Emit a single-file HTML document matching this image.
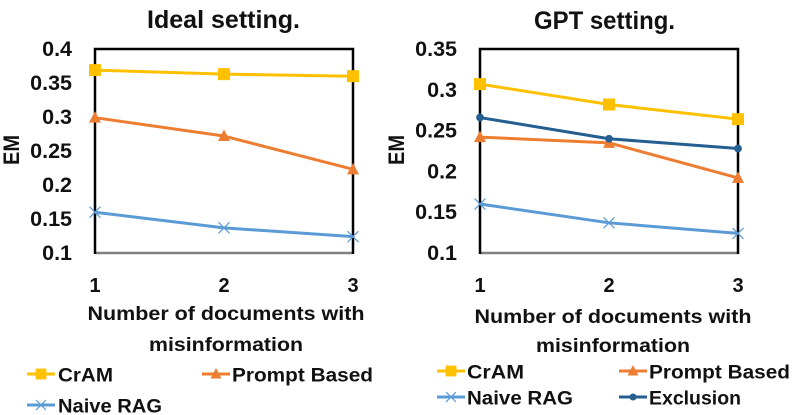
<!DOCTYPE html>
<html>
<head>
<meta charset="utf-8">
<style>
html,body{margin:0;padding:0;background:#fff;width:797px;height:415px;overflow:hidden}
svg{display:block}
text{font-family:"Liberation Sans",sans-serif;font-weight:bold;fill:#111}
</style>
</head>
<body>
<svg id="fig" width="797" height="415" viewBox="0 0 797 415" xmlns="http://www.w3.org/2000/svg"></svg>
<script>
const categories = ["1", "2", "3"];

const idealTicks = ["0.1", "0.15", "0.2", "0.25", "0.3", "0.35", "0.4"];
const idealCram = [0.369, 0.363, 0.360];
const idealPrompt = [0.299, 0.272, 0.223];
const idealNaive = [0.160, 0.137, 0.124];

const gptTicks = ["0.1", "0.15", "0.2", "0.25", "0.3", "0.35"];
const gptCram = [0.307, 0.282, 0.264];
const gptPrompt = [0.242, 0.235, 0.192];
const gptNaive = [0.160, 0.137, 0.124];
const gptExclusion = [0.266, 0.240, 0.228];

const svg = document.getElementById('fig');
const NS = 'http://www.w3.org/2000/svg';
const COLORS = {cram:'#FFC000', prompt:'#ED7D31', naive:'#5B9BD5', exclusion:'#255E91'};

function make(tag, attrs, parent) {
  const el = document.createElementNS(NS, tag);
  for (const k in attrs) el.setAttribute(k, attrs[k]);
  (parent || svg).appendChild(el);
  return el;
}
function label(str, attrs, width, name) {
  const el = make('text', attrs);
  el.textContent = str;
  if (width) {
    el.setAttribute('textLength', width);
    el.setAttribute('lengthAdjust', 'spacingAndGlyphs');
  }
  
  
  return el;
}
function marker(kind, x, y, color, name, scale) {
  const s = scale || 1;
  let el;
  if (kind === 'square') {
    el = make('rect', {x:x-6*s, y:y-6*s, width:12*s, height:12*s, fill:color});
  } else if (kind === 'triangle') {
    const h = 5.5*s;
    el = make('polygon', {points:`${x-h-0.5},${y+h-0.5} ${x+h+0.5},${y+h-0.5} ${x},${y-h-1}`, fill:color});
  } else if (kind === 'circle') {
    el = make('circle', {cx:x, cy:y, r:3.9*s, fill:color});
  } else {
    const d = 5.5*s;
    el = make('path', {d:`M${x-d} ${y-d}L${x+d} ${y+d}M${x-d} ${y+d}L${x+d} ${y-d}`, stroke:color, 'stroke-width':1.2, fill:'none'});
  }
  
  
  return el;
}
function legendEntry(str, kind, color, x1, x2, y, tx, tw, name) {
  const line = make('line', {x1:x1, x2:x2, y1:y, y2:y, stroke:color, 'stroke-width':3});
  
  
  marker(kind, (x1+x2)/2, y, color, name + '-marker', 0.9);
  label(str, {x:tx, y:y+7.5, 'font-size':19.5}, tw, name);
}

function drawChart(cfg) {
  const yPos = v => cfg.bottom - (v - cfg.min) / (cfg.max - cfg.min) * (cfg.bottom - cfg.top);
  const xPos = i => cfg.left + i / (categories.length - 1) * (cfg.right - cfg.left);
  const p = cfg.prefix;

  label(cfg.title, {x:cfg.titleX, y:cfg.titleY, 'text-anchor':'middle', 'font-size':25}, cfg.titleW, p + '-title');

  const bottom = make('line', {x1:cfg.left, x2:cfg.right, y1:cfg.bottom, y2:cfg.bottom, stroke:'#808080', 'stroke-width':2.5});
  
  
  const frame = make('path', {d:`M${cfg.left} ${cfg.bottom+1}V${cfg.top}H${cfg.right}V${cfg.bottom+1}`, fill:'none', stroke:'#000', 'stroke-width':2.5});
  
  

  cfg.ticks.forEach(t => {
    label(t, {x:cfg.tickX, y:yPos(parseFloat(t)) + 7, 'text-anchor':'end', 'font-size':21.5}, null, p + '-y-tick-' + t);
  });
  categories.forEach((c, i) => {
    label(c, {x:xPos(i), y:292, 'text-anchor':'middle', 'font-size':20}, null, p + '-x-tick-' + c);
  });

  const yt = label('EM', {transform:`translate(${cfg.emX},${cfg.emY}) rotate(-90)`, 'text-anchor':'middle', 'font-size':22}, 30, p + '-y-axis-title');
  yt.setAttribute('x', 0);
  yt.setAttribute('y', 0);

  label('Number of documents with', {x:cfg.axisX, y:cfg.axisY1, 'text-anchor':'middle', 'font-size':19.5}, 277, p + '-x-axis-title-line-1');
  label('misinformation', {x:cfg.axisX, y:cfg.axisY2, 'text-anchor':'middle', 'font-size':19.5}, 154, p + '-x-axis-title-line-2');

  cfg.series.forEach(s => {
    const pts = s.values.map((v, i) => xPos(i) + ',' + yPos(v)).join(' ');
    const line = make('polyline', {points:pts, fill:'none', stroke:s.color, 'stroke-width':3, 'stroke-linejoin':'round'});
    
    
    s.values.forEach((v, i) => marker(s.marker, xPos(i), yPos(v), s.color, p + '-' + s.key + '-point-' + categories[i]));
  });
}

drawChart({
  prefix:'ideal', title:'Ideal setting.', titleX:223.5, titleY:28, titleW:153,
  left:95, right:353, top:49, bottom:253, min:0.1, max:0.4,
  ticks:idealTicks, tickX:72, emX:19, emY:150,
  axisX:226, axisY1:320, axisY2:351,
  series:[
    {key:'naive', values:idealNaive, color:COLORS.naive, marker:'x'},
    {key:'prompt', values:idealPrompt, color:COLORS.prompt, marker:'triangle'},
    {key:'cram', values:idealCram, color:COLORS.cram, marker:'square'}
  ]
});
drawChart({
  prefix:'gpt', title:'GPT setting.', titleX:604.5, titleY:29, titleW:141,
  left:480, right:738, top:49, bottom:253, min:0.1, max:0.35,
  ticks:gptTicks, tickX:457, emX:404, emY:150,
  axisX:613, axisY1:323, axisY2:352,
  series:[
    {key:'naive', values:gptNaive, color:COLORS.naive, marker:'x'},
    {key:'prompt', values:gptPrompt, color:COLORS.prompt, marker:'triangle'},
    {key:'exclusion', values:gptExclusion, color:COLORS.exclusion, marker:'circle'},
    {key:'cram', values:gptCram, color:COLORS.cram, marker:'square'}
  ]
});

legendEntry('CrAM', 'square', COLORS.cram, 27, 55, 374, 58, 55, 'ideal-legend-cram');
legendEntry('Prompt Based', 'triangle', COLORS.prompt, 202, 230, 374, 232, 141, 'ideal-legend-prompt-based');
legendEntry('Naive RAG', 'x', COLORS.naive, 27, 55, 405, 58, 104, 'ideal-legend-naive-rag');

legendEntry('CrAM', 'square', COLORS.cram, 437, 465, 371, 467, 57, 'gpt-legend-cram');
legendEntry('Prompt Based', 'triangle', COLORS.prompt, 619, 647, 371, 649, 141, 'gpt-legend-prompt-based');
legendEntry('Naive RAG', 'x', COLORS.naive, 437, 465, 397, 467, 106, 'gpt-legend-naive-rag');
legendEntry('Exclusion', 'circle', COLORS.exclusion, 619, 647, 397, 649, 92, 'gpt-legend-exclusion');
</script>
</body>
</html>
